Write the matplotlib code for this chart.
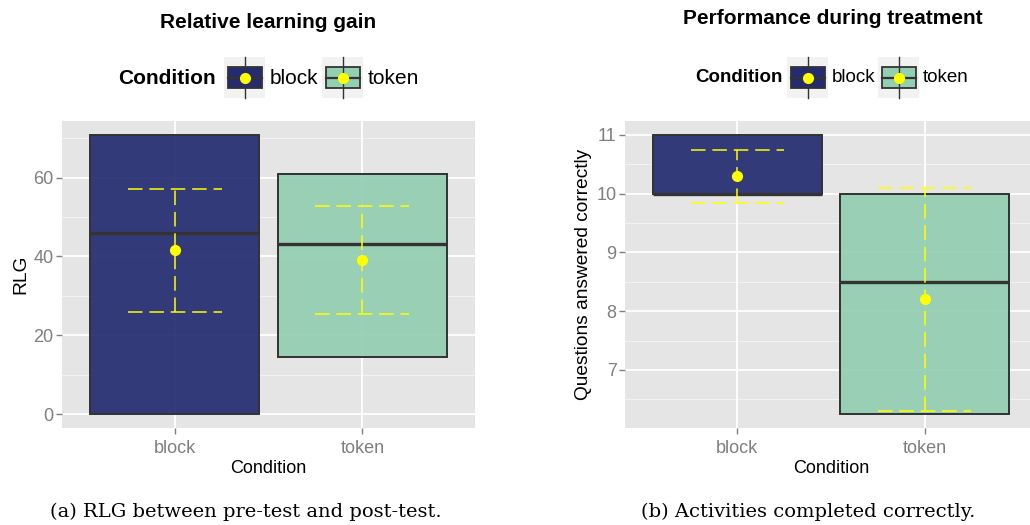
import numpy as np
import matplotlib
matplotlib.use("Agg")
import matplotlib.pyplot as plt
from matplotlib.patches import Rectangle

plt.rcParams["font.family"] = ["Liberation Sans", "DejaVu Sans"]

# ── data ────────────────────────────────────────────────────────────────────
conditions = ["block", "token"]

# relative learning gain (box: lower / median / upper, mean with interval)
rlg_lower = [0.0, 14.4]
rlg_median = [45.9, 43.1]
rlg_upper = [70.8, 60.9]
rlg_mean = [41.5, 39.2]
rlg_ci_low = [25.8, 25.5]
rlg_ci_high = [57.2, 52.8]

# questions answered correctly during treatment
perf_lower = [10.0, 6.25]
perf_median = [10.0, 8.5]
perf_upper = [11.0, 10.0]
perf_mean = [10.3, 8.2]
perf_ci_low = [9.85, 6.3]
perf_ci_high = [10.75, 10.1]

fills = {"block": "#242B70", "token": "#93CFB1"}
edge = "#333333"
yellow = "#FFFF00"
grey_txt = "#7F7F7F"
dash = (0, (9.5, 4.5))

W, H = 1030, 525
fig = plt.figure(figsize=(W / 100, H / 100), dpi=100)


def px_axes(x0, y0, x1, y1):
    return fig.add_axes([x0 / W, 1 - y1 / H, (x1 - x0) / W, (y1 - y0) / H])


def draw_panel(ax, lower, median, upper, mean, ci_low, ci_high,
               yticks, yminor, ylabel, xmax, fs):
    xs = np.arange(1, len(conditions) + 1)
    lo = min(lower + ci_low)
    hi = max(upper + ci_high)
    pad = 0.05 * (hi - lo)
    ax.set_ylim(lo - pad, hi + pad)
    ax.set_xlim(0.4, xmax)
    ax.set_facecolor("#E5E5E5")
    for s in ax.spines.values():
        s.set_visible(False)

    # grid
    for y in yminor:
        ax.axhline(y, color="#F2F2F2", lw=0.8, zorder=0)
    for y in yticks:
        ax.axhline(y, color="white", lw=1.3, zorder=0)
    for x in xs:
        ax.axvline(x, color="white", lw=1.3, zorder=0)

    for x, c, l, m, u, mu, cl, ch in zip(xs, conditions, lower, median, upper,
                                         mean, ci_low, ci_high):
        ax.add_patch(Rectangle((x - 0.45, l), 0.9, u - l, facecolor=fills[c],
                               edgecolor=edge, lw=1.3, alpha=0.92, zorder=2))
        ax.add_patch(Rectangle((x - 0.45, l), 0.9, u - l, facecolor="none",
                               edgecolor=edge, lw=1.3, zorder=3))
        ax.plot([x - 0.45, x + 0.45], [m, m], color=edge, lw=2.4, zorder=3,
                solid_capstyle="butt")
        ax.plot([x, x], [cl, ch], color=yellow, lw=1.1, linestyle=dash, zorder=4)
        for yy in (cl, ch):
            ax.plot([x - 0.25, x + 0.25], [yy, yy], color=yellow, lw=1.1,
                    linestyle=dash, zorder=4)
        ax.plot(x, mu, "o", color=yellow, ms=7, zorder=5)

    ax.set_xticks(xs)
    ax.set_xticklabels(conditions)
    ax.set_yticks(yticks)
    ax.tick_params(length=4, width=1, color=grey_txt, labelcolor=grey_txt,
                   labelsize=fs, pad=2)
    ax.tick_params(axis="x", pad=4.5)
    ax.set_xlabel("Condition", fontsize=fs, labelpad=2)
    ax.set_ylabel(ylabel, fontsize=fs + 0.8, labelpad=3)


ax1 = px_axes(62, 121, 475, 428)
draw_panel(ax1, rlg_lower, rlg_median, rlg_upper, rlg_mean, rlg_ci_low,
           rlg_ci_high, [0, 20, 40, 60], [10, 30, 50, 70], "RLG", 2.6, 13)

ax2 = px_axes(625, 121, 1037, 428)
draw_panel(ax2, perf_lower, perf_median, perf_upper, perf_mean, perf_ci_low,
           perf_ci_high, [7, 8, 9, 10, 11], [6.5, 7.5, 8.5, 9.5, 10.5],
           "Questions answered correctly", 2.6, 13)

# ── titles, legends, captions (overlay in pixel units) ──────────────────────
ov = fig.add_axes([0, 0, 1, 1], zorder=10)
ov.set_xlim(0, W)
ov.set_ylim(H, 0)
ov.axis("off")


def legend_key(x0, y0, c, size=41):
    ov.add_patch(Rectangle((x0, y0), size, size, facecolor="#F2F2F2",
                           edgecolor="none"))
    cx, cy = x0 + size / 2, y0 + size / 2
    ov.plot([cx, cx], [y0, y0 + size], color=edge, lw=1)
    ov.add_patch(Rectangle((x0 + 3.5, y0 + 10), size - 7, size - 20,
                           facecolor=fills[c], edgecolor=edge, lw=1.3))
    ov.plot([x0 + 3.5, x0 + size - 3.5], [cy, cy], color=edge, lw=1.6)
    ov.plot(cx, cy, "o", color=yellow, ms=7)


def legend(x_label, x_keys, x_texts, y0, fs):
    ov.text(x_label, y0 + 21, "Condition", fontsize=fs, fontweight="bold",
            va="center")
    for xk, xt, c in zip(x_keys, x_texts, conditions):
        legend_key(xk, y0, c)
        ov.text(xt, y0 + 21, c, fontsize=fs, va="center")


ov.text(268, 22, "Relative learning gain", fontsize=15, fontweight="bold",
        ha="center", va="center")
ov.text(833, 18, "Performance during treatment", fontsize=15, fontweight="bold",
        ha="center", va="center")

legend(118, [224, 322], [270, 368], 57, 15)
legend(695, [787, 878], [832, 923], 57, 13.5)

cap_font = ["DejaVu Serif"]
ov.text(246, 512, "(a) RLG between pre-test and post-test.", fontsize=14,
        family=cap_font, ha="center", va="center")
ov.text(808, 512, "(b) Activities completed correctly.", fontsize=14,
        family=cap_font, ha="center", va="center")

fig.savefig("out.png", dpi=100)
